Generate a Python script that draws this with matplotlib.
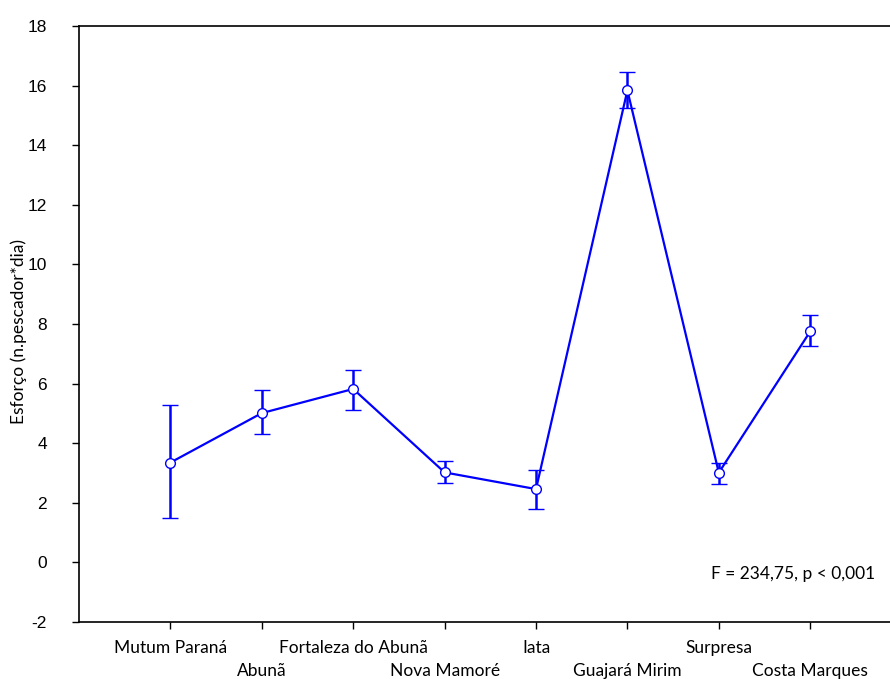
import matplotlib
matplotlib.use("Agg")
import matplotlib.pyplot as plt

sites = ["Mutum Paraná", "Abunã", "Fortaleza do Abunã", "Nova Mamoré",
         "Iata", "Guajará Mirim", "Surpresa", "Costa Marques"]
means = [3.35, 5.01, 5.82, 3.02, 2.46, 15.84, 3.01, 7.75]
upper = [5.27, 5.78, 6.46, 3.40, 3.11, 16.46, 3.34, 8.29]
lower = [1.49, 4.31, 5.12, 2.67, 1.79, 15.26, 2.63, 7.25]
yticks = [-2, 0, 2, 4, 6, 8, 10, 12, 14, 16, 18]

fig = plt.figure(figsize=(8.9, 6.79), dpi=100)
ax = fig.add_axes([79/890, 1-622/679, 1-79/890, (622-26)/679])

x = list(range(1, len(sites)+1))
yerr = [[m - l for m, l in zip(means, lower)], [u - m for m, u in zip(means, upper)]]
color = "#0000ff"
ax.errorbar(x, means, yerr=yerr, color=color, lw=1.6, elinewidth=1.8,
            capsize=6, capthick=1.8, marker="o", markersize=7,
            markerfacecolor="white", markeredgecolor=color, markeredgewidth=1.0, zorder=3)

ax.set_xlim(0, (890-79)/91.4)
ax.set_ylim(-2, 18)
ax.set_yticks(yticks)
ax.set_yticklabels([str(v) for v in yticks], fontsize=12.5, family="Liberation Sans")
ax.set_xticks(x)
ax.set_xticklabels([])
for i, s in enumerate(sites):
    off = -0.031 if i % 2 == 0 else -0.069
    ax.text(x[i], off, s, transform=ax.get_xaxis_transform(), ha="center", va="top",
            fontsize=12.5, family="Lato")
ax.spines["right"].set_visible(False)
for sp in ["left", "bottom", "top"]:
    ax.spines[sp].set_linewidth(1.2)
ax.tick_params(axis="x", direction="out", length=5, width=1.0)
ax.tick_params(axis="y", direction="out", length=5, width=1.0, pad=18)
ax.set_ylabel("Esforço (n.pescador*dia)", fontsize=12.5, family="Lato")
ax.yaxis.set_label_coords((27-79)/811, (622-331)/596)
ax.text((875-79)/(890-79), (622-574)/596, "F = 234,75, p < 0,001",
        transform=ax.transAxes, ha="right", va="center", fontsize=12.5, family="Lato")

fig.savefig("out.png", dpi=100)
